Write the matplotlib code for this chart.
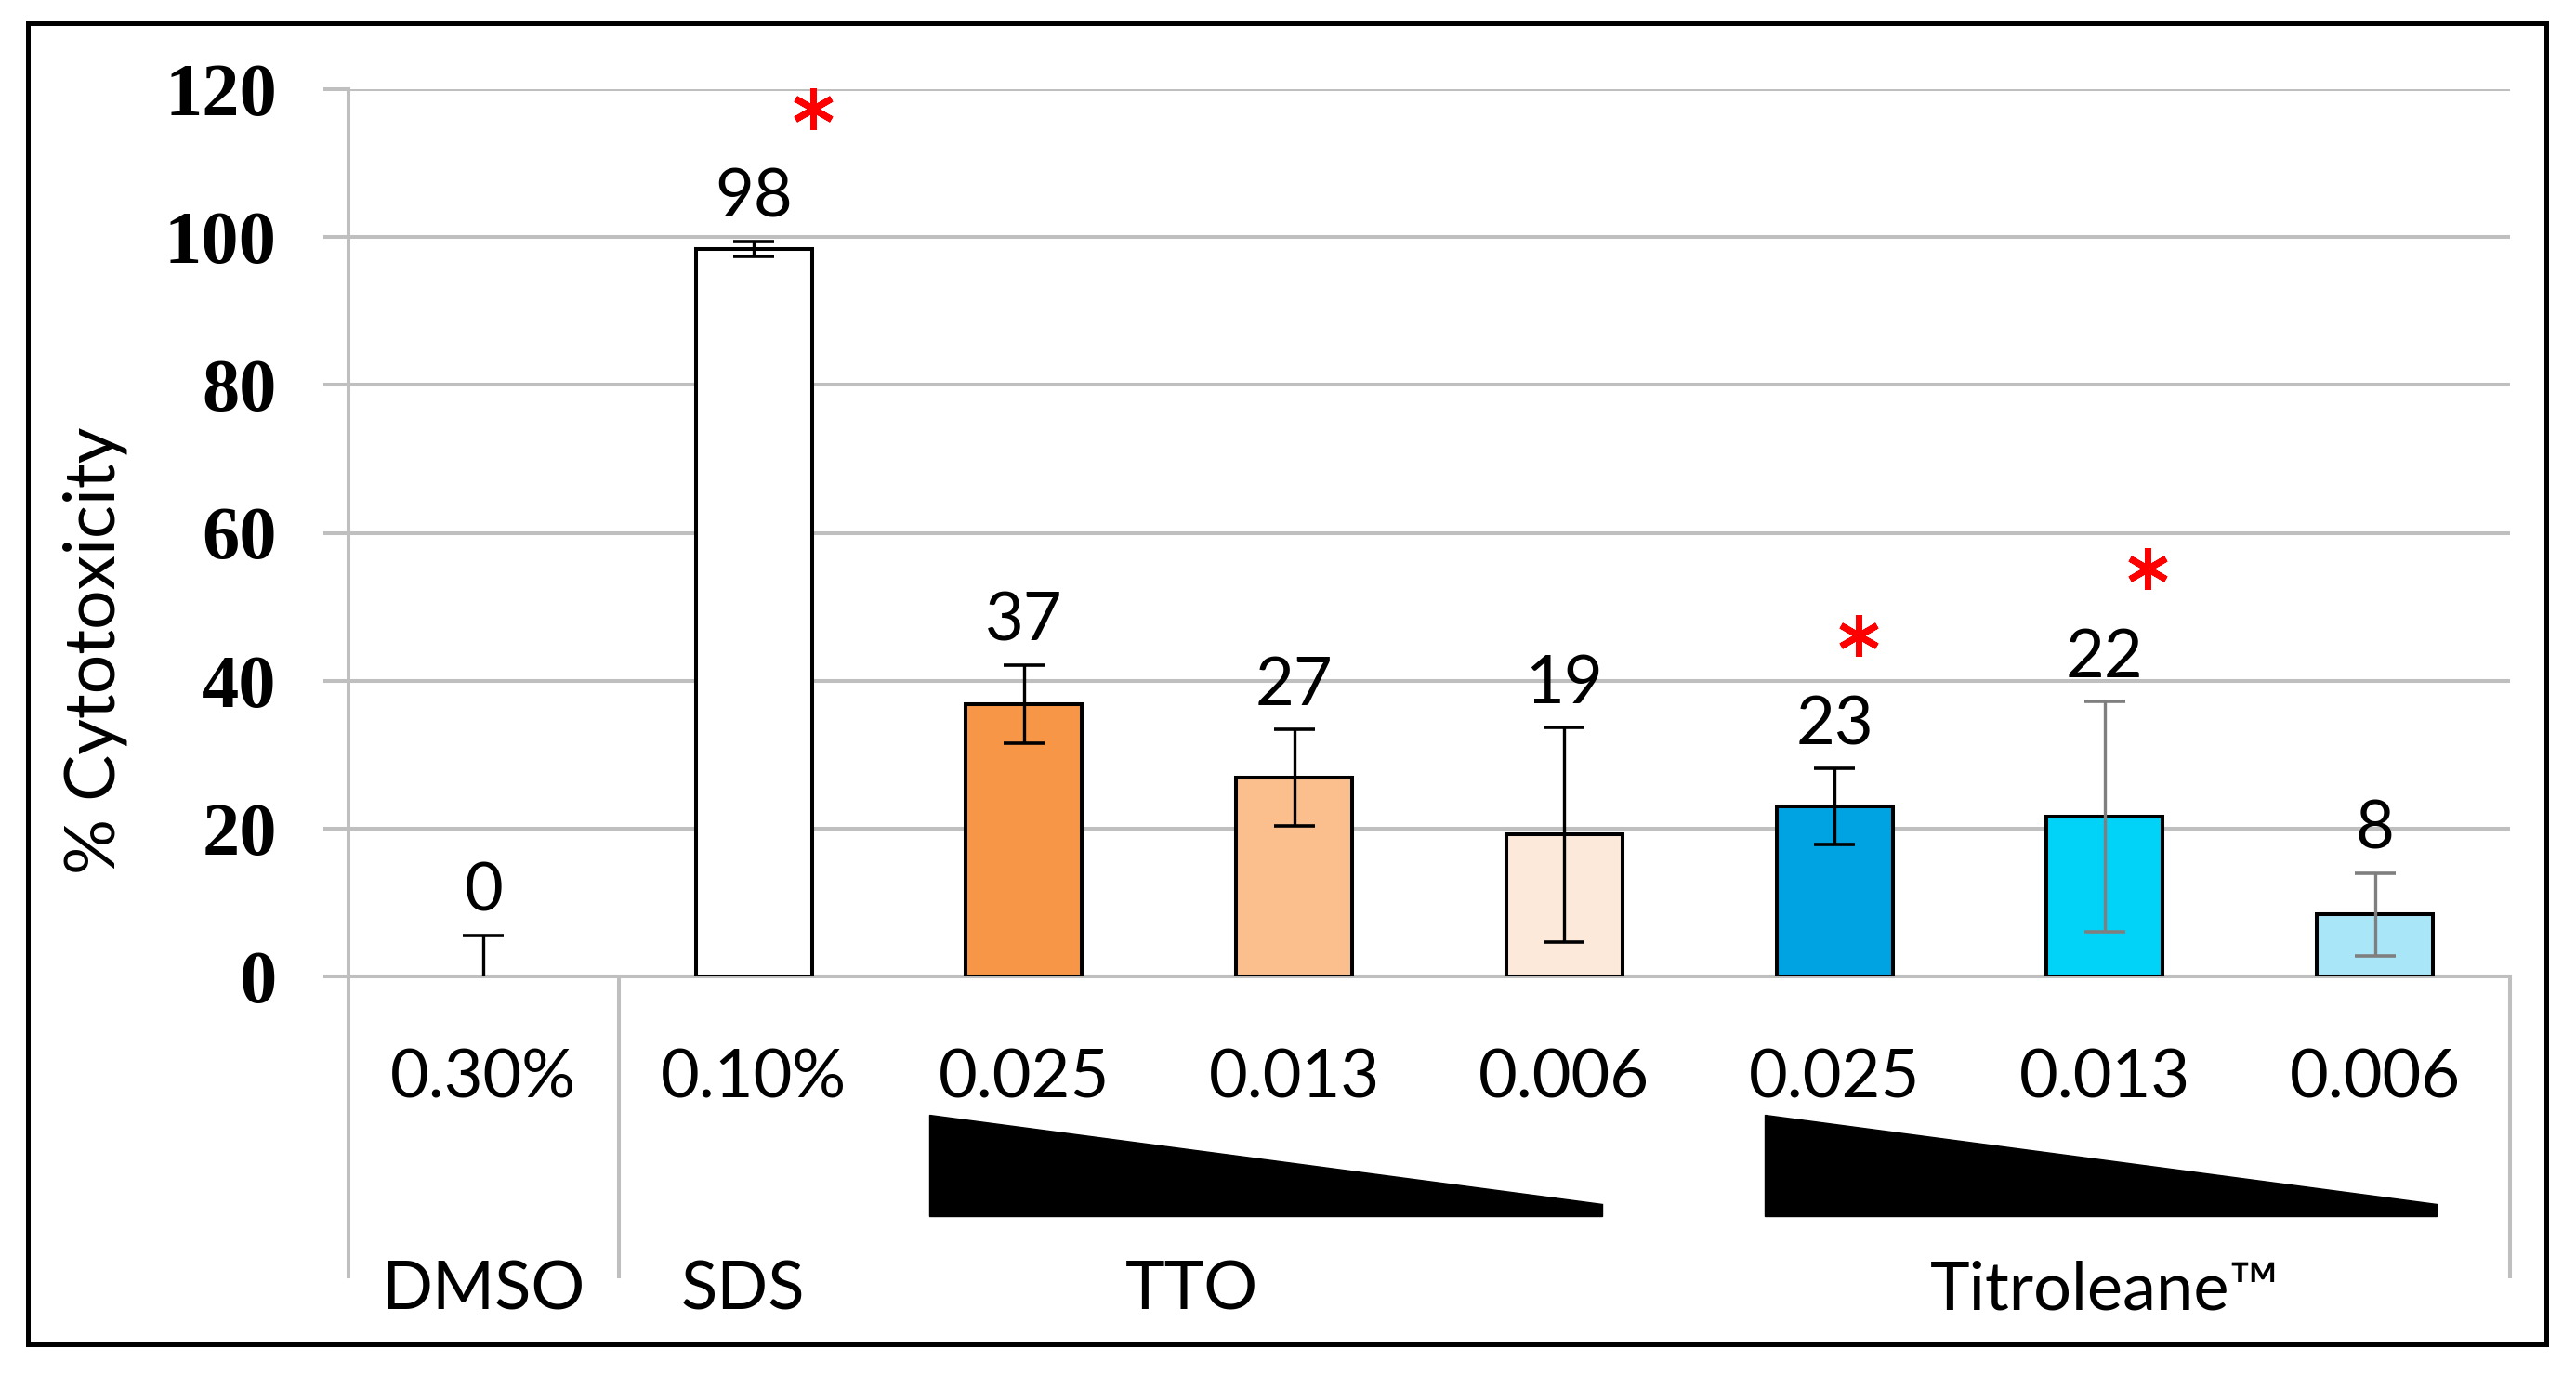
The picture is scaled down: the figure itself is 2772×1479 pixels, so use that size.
#!/usr/bin/env python3
# -*- coding: utf-8 -*-
"""Cytotoxicity bar chart (DMSO / SDS / TTO / Titroleane)."""

import numpy as np
import matplotlib
matplotlib.use("Agg")
import matplotlib.pyplot as plt
from matplotlib.patches import Polygon, Rectangle
from matplotlib.lines import Line2D


# data
conc_labels = ["0.30%", "0.10%", "0.025", "0.013", "0.006", "0.025", "0.013", "0.006"]
values = [0.0, 98.4, 36.8, 26.9, 19.2, 23.0, 21.6, 8.4]
errors = [5.5, 1.0, 5.3, 6.5, 14.5, 5.1, 15.6, 5.6]
value_text = ["0", "98", "37", "27", "19", "23", "22", "8"]
bar_colors = ["#FFFFFF", "#FFFFFF", "#F79646", "#FBBF8E", "#FDE9DA",
              "#00A3E2", "#00D2F8", "#A9E6F7"]
err_colors = ["black"] * 6 + ["#7F7F7F", "#7F7F7F"]

groups = ["DMSO", "SDS", "TTO", "Titroleane™"]
group_x = [0.0, 0.96, 2.62, 6.0]

star_idx = [1, 5, 6]          # significant bars
star_dx = [0.22, 0.09, 0.16]
wedge_x0 = [1.65, 4.74]       # left edge of each dilution wedge (category units)
wedge_len = 2.49

GRID = "#BFBFBF"
SANS = ["Lato", "DejaVu Sans"]


def main() -> None:
    W, H, DPI = 2772, 1479, 100
    fig = plt.figure(figsize=(W / DPI, H / DPI), dpi=DPI)
    ax = fig.add_axes([375 / W, 1 - 1051 / H, (2701 - 375) / W, (1051 - 96) / H])

    x = np.arange(len(values))
    edges = ["black" if v > 0 else "none" for v in values]
    ax.bar(x, values, width=0.43, color=bar_colors, edgecolor=edges,
           linewidth=2.9, zorder=3)

    for xi, v, e, c in zip(x, values, errors, err_colors):
        _, caps, _ = ax.errorbar(xi, v, yerr=e, fmt="none", ecolor=c,
                                 elinewidth=2.4, capsize=16, capthick=2.6, zorder=4)
        for cap in caps:
            cap.set_color("black")

    # value labels above the error bars
    for xi, v, e, t in zip(x, values, errors, value_text):
        ax.text(xi, v + e + 3.3, t, ha="center", va="baseline",
                fontsize=52, family=SANS, color="black", zorder=5, clip_on=False)

    # significance asterisks
    for i, dx in zip(star_idx, star_dx):
        ax.plot(x[i] + dx, values[i] + errors[i] + 18, marker=(6, 2, 0),
                markersize=32, markeredgewidth=5, color="#FF0000",
                linestyle="none", zorder=6, clip_on=False)

    ax.set_xlim(-0.5, len(values) - 0.5)
    ax.set_ylim(0, 120)
    ax.set_yticks(np.arange(0, 121, 20))
    ax.set_yticklabels([str(v) for v in range(0, 121, 20)],
                       fontsize=58, fontweight="bold", family=["Liberation Serif", "DejaVu Serif"])
    ax.tick_params(axis="y", length=19.5, width=2.9, color=GRID, pad=36)
    ax.set_xticks([])
    ax.grid(True, axis="y", color=GRID, linewidth=2.9, zorder=0)
    ax.set_axisbelow(True)
    for s in ("top", "right"):
        ax.spines[s].set_visible(False)
    for s in ("left", "bottom"):
        ax.spines[s].set_color(GRID)
        ax.spines[s].set_linewidth(2.9)

    # multi-level category axis below the plot
    tr = ax.get_xaxis_transform()
    for xi, lab in zip(x, conc_labels):
        ax.text(xi, -0.137, lab, transform=tr, ha="center", va="baseline",
                fontsize=52, family=SANS, clip_on=False)
    for gx, g in zip(group_x, groups):
        ax.text(gx, -0.375, g, transform=tr, ha="center", va="baseline",
                fontsize=52, family=SANS, clip_on=False)
    for sx in (-0.5, 0.5, len(values) - 0.5):
        ax.add_line(Line2D([sx, sx], [0, -0.338], transform=tr, color=GRID,
                           linewidth=2.9, clip_on=False))

    # decreasing-concentration wedges
    for x0 in wedge_x0:
        x1 = x0 + wedge_len
        poly = Polygon([[x0, -0.156], [x0, -0.270], [x1, -0.270], [x1, -0.257]],
                       closed=True, transform=tr, facecolor="black",
                       edgecolor="black", linewidth=1, clip_on=False)
        ax.add_patch(poly)

    fig.text(102 / W, 1 - 700 / H, "% Cytotoxicity", rotation=90, ha="center",
             va="center", fontsize=54, family=SANS)

    # outer frame
    fig.add_artist(Rectangle((30 / W, 1 - 1447 / H), (2740 - 30) / W, (1447 - 25) / H,
                             transform=fig.transFigure, fill=False,
                             edgecolor="black", linewidth=3.6))

    fig.savefig("out.png", dpi=DPI, facecolor="white")
    plt.close(fig)


if __name__ == "__main__":
    main()
